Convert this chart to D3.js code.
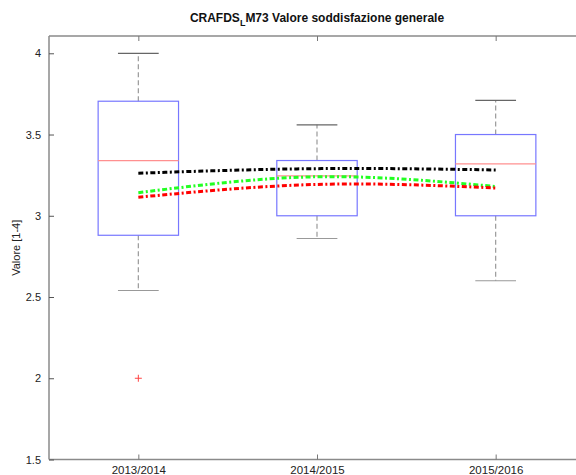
<!DOCTYPE html>
<html>
<head>
<meta charset="utf-8">
<script src="https://cdn.jsdelivr.net/npm/d3@7"></script>
<style>
  html, body { margin: 0; padding: 0; background: #fff; }
  svg { display: block; font-family: "Liberation Sans", Arial, sans-serif; }
</style>
</head>
<body>
<svg id="chart" width="576" height="475"></svg>
<script>
// Academic years on the x axis
const categories = ["2013/2014", "2014/2015", "2015/2016"];

// Box statistics per year
const whiskerLow  = [2.54, 2.86, 2.60];
const q1          = [2.88, 3.00, 3.00];
const medians     = [3.34, 3.245, 3.32];
const q3          = [3.705, 3.34, 3.50];
const whiskerHigh = [4.00, 3.56, 3.71];
const outliers    = [[2.0], [], []];

// Reference trend lines (means)
const blackLine = [3.262, 3.29, 3.282];
const greenLine = [3.142, 3.24, 3.18];
const redLine   = [3.114, 3.193, 3.171];

const yTicks = [1.5, 2, 2.5, 3, 3.5, 4];

const svg = d3.select("#chart");
const plotLeft = 49, plotRight = 585, plotTop = 36, plotBottom = 459.5;

const x = d3.scaleLinear().domain([0.5, 3.5]).range([plotLeft, plotRight]);
const y = d3.scaleLinear().domain([1.5, 4.1064]).range([plotBottom, plotTop]);

const axisColor = "#8a8a8a";
const textColor = "#222";

// Axes frame
const frame = svg.append("g");
frame.append("line").attr("x1", plotLeft).attr("x2", plotRight).attr("y1", plotTop).attr("y2", plotTop)
  .attr("stroke", axisColor).attr("stroke-width", 1.5);
frame.append("line").attr("x1", plotLeft).attr("x2", plotRight).attr("y1", plotBottom).attr("y2", plotBottom)
  .attr("stroke", axisColor).attr("stroke-width", 1.5);
frame.append("line").attr("x1", plotLeft).attr("x2", plotLeft).attr("y1", plotTop).attr("y2", plotBottom)
  .attr("stroke", axisColor).attr("stroke-width", 1.5);

// Y axis (ticks pointing inward)
const yAxis = d3.axisLeft(y).tickValues(yTicks).tickSizeInner(-5).tickSizeOuter(0)
  .tickPadding(8).tickFormat(d3.format("~g"));
const gy = svg.append("g").attr("transform", `translate(${plotLeft},0)`).call(yAxis);
gy.select(".domain").remove();
gy.selectAll(".tick line").attr("stroke", "#555");
gy.selectAll(".tick text").attr("fill", textColor).style("font-size", "11px")
  .attr("font-family", "Liberation Sans, Arial, sans-serif");

// X axis bottom (ticks inward)
const xAxis = d3.axisBottom(x).tickValues([1, 2, 3]).tickSizeInner(-5).tickSizeOuter(0)
  .tickPadding(6).tickFormat((d) => categories[d - 1]);
const gx = svg.append("g").attr("transform", `translate(0,${plotBottom})`).call(xAxis);
gx.select(".domain").remove();
gx.selectAll(".tick line").attr("stroke", "#777");
gx.selectAll(".tick text").attr("fill", textColor).style("font-size", "11.5px")
  .attr("font-family", "Liberation Sans, Arial, sans-serif");

// X axis top ticks
const gxt = svg.append("g").attr("transform", `translate(0,${plotTop})`)
  .call(d3.axisTop(x).tickValues([1, 2, 3]).tickSizeInner(-5).tickSizeOuter(0).tickFormat(""));
gxt.select(".domain").remove();
gxt.selectAll(".tick line").attr("stroke", "#777");

// Boxplots
const halfBox = 0.225, halfCap = 0.114;
const boxes = svg.append("g");
categories.forEach((c, i) => {
  const cx = i + 1;
  const g = boxes.append("g");
  // whiskers
  g.append("line").attr("x1", x(cx)).attr("x2", x(cx)).attr("y1", y(q3[i])).attr("y2", y(whiskerHigh[i]))
    .attr("stroke", "#999").attr("stroke-width", 1.2).attr("stroke-dasharray", "5,3");
  g.append("line").attr("x1", x(cx)).attr("x2", x(cx)).attr("y1", y(q1[i])).attr("y2", y(whiskerLow[i]))
    .attr("stroke", "#999").attr("stroke-width", 1.2).attr("stroke-dasharray", "5,3");
  // caps
  g.append("line").attr("x1", x(cx - halfCap)).attr("x2", x(cx + halfCap))
    .attr("y1", y(whiskerHigh[i])).attr("y2", y(whiskerHigh[i]))
    .attr("stroke", "#666").attr("stroke-width", 1.2);
  g.append("line").attr("x1", x(cx - halfCap)).attr("x2", x(cx + halfCap))
    .attr("y1", y(whiskerLow[i])).attr("y2", y(whiskerLow[i]))
    .attr("stroke", "#999").attr("stroke-width", 1.2);
  // box
  g.append("rect").attr("x", x(cx - halfBox)).attr("y", y(q3[i]))
    .attr("width", x(cx + halfBox) - x(cx - halfBox)).attr("height", y(q1[i]) - y(q3[i]))
    .attr("fill", "none").attr("stroke", "#7777ff").attr("stroke-width", 1.2);
  // median
  g.append("line").attr("x1", x(cx - halfBox)).attr("x2", x(cx + halfBox))
    .attr("y1", y(medians[i])).attr("y2", y(medians[i]))
    .attr("stroke", "#ff9090").attr("stroke-width", 1.2);
  // outliers
  outliers[i].forEach((v) => {
    g.append("path").attr("d", `M${x(cx) - 3.5},${y(v)}h7M${x(cx)},${y(v) - 3.5}v7`)
      .attr("stroke", "#ff4444").attr("stroke-width", 1);
  });
});

// Trend lines
const line = d3.line().x((d, i) => x(i + 1)).y((d) => y(d)).curve(d3.curveNatural);
const series = [
  { values: blackLine, color: "#000" },
  { values: greenLine, color: "#22ff22" },
  { values: redLine,   color: "#ff0000" }
];
svg.append("g").selectAll("path").data(series).join("path")
  .attr("d", (s) => line(s.values))
  .attr("fill", "none").attr("stroke", (s) => s.color)
  .attr("stroke-width", 3).attr("stroke-dasharray", "5,2.5,2,2.5");

// Title with subscript
const title = svg.append("text").attr("x", (plotLeft + plotRight) / 2).attr("y", 22)
  .attr("text-anchor", "middle").attr("fill", "#111")
  .style("font-size", "12px").style("font-weight", "bold");
title.append("tspan").text("CRAFDS");
title.append("tspan").attr("dy", 4).style("font-size", "9px").text("L");
title.append("tspan").attr("dy", -4).text("M73 Valore soddisfazione generale");

// Y label
svg.append("text").attr("transform", `translate(20,${(plotTop + plotBottom) / 2}) rotate(-90)`)
  .attr("text-anchor", "middle").attr("fill", textColor).style("font-size", "11px")
  .text("Valore [1-4]");
</script>
</body>
</html>
